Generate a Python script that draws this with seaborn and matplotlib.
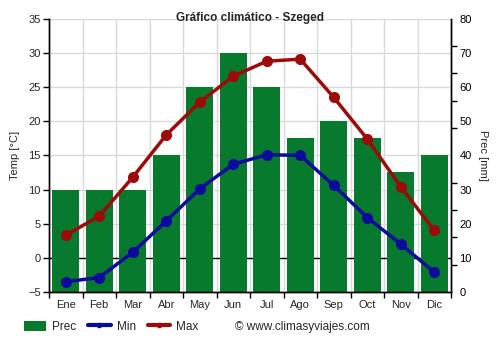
import numpy as np
import pandas as pd
import matplotlib
matplotlib.use("Agg")
import matplotlib.pyplot as plt
import matplotlib.transforms as mtransforms
from matplotlib.lines import Line2D
from matplotlib.patches import Patch
import seaborn as sns

# Monthly climate data for Szeged
months = ["Ene", "Feb", "Mar", "Abr", "May", "Jun", "Jul", "Ago", "Sep", "Oct", "Nov", "Dic"]
prec_mm = [30, 30, 30, 40, 60, 70, 60, 45, 50, 45, 35, 40]
temp_min = [-3.5, -2.9, 0.8, 5.4, 10.1, 13.7, 15.1, 15.0, 10.6, 5.9, 2.0, -2.1]
temp_max = [3.3, 6.1, 11.8, 18.0, 22.8, 26.6, 28.8, 29.1, 23.5, 17.4, 10.4, 4.0]
temp_ticks = [-5, 0, 5, 10, 15, 20, 25, 30, 35]
prec_ticks = [0, 10, 20, 30, 40, 50, 60, 70, 80]

C_BAR = "#077a2e"
C_MIN = "#0a0a9c"
C_MAX = "#9c0a0a"
C_GRID = "#d9d9d9"

sns.set_theme(style="white")
plt.rcParams["font.family"] = ["Liberation Sans", "DejaVu Sans"]

df = pd.DataFrame({"mes": months, "prec": prec_mm, "tmin": temp_min, "tmax": temp_max})

fig = plt.figure(figsize=(5, 3.5), dpi=100)
ax_t = fig.add_axes([0.098, 0.166, 0.804, 0.780])
ax_p = ax_t.twinx()
ax_t.set_zorder(2)
ax_t.patch.set_visible(False)
ax_p.set_zorder(1)
ax_p.patch.set_facecolor("white")

# Precipitation bars (right axis)
sns.barplot(data=df, x="mes", y="prec", ax=ax_p, color=C_BAR, width=0.8,
            saturation=1, zorder=2, linewidth=0)
ax_p.set_ylim(0, 80)
ax_p.set_yticks(prec_ticks)
ax_p.set_yticks(np.arange(0, 81, 8), minor=True)
ax_p.tick_params(axis="y", which="major", length=0, pad=6, labelsize=8, colors="black")
ax_p.tick_params(axis="y", which="minor", length=4, width=1, color="black", right=True)
ax_p.yaxis.set_ticks_position("right")
ax_p.set_ylabel("Prec [mm]", fontsize=8, rotation=-90, labelpad=12)
ax_p.yaxis.set_label_position("right")
ax_p.grid(axis="y", which="major", color=C_GRID, linewidth=1)
ax_p.set_axisbelow(True)

# Temperature lines (left axis)
sns.lineplot(data=df, x="mes", y="tmin", ax=ax_t, color=C_MIN, linewidth=2.5,
             marker="o", markersize=8, markeredgewidth=0, sort=False)
sns.lineplot(data=df, x="mes", y="tmax", ax=ax_t, color=C_MAX, linewidth=2.5,
             marker="o", markersize=8, markeredgewidth=0, sort=False)
ax_t.set_ylim(-5, 35)
ax_t.set_yticks(temp_ticks)
ax_t.yaxis.set_ticks_position("left")
ax_t.yaxis.set_label_position("left")
ax_t.tick_params(axis="y", length=4, width=1, color="black", labelsize=8, pad=2, left=True)
ax_t.set_ylabel("Temp [°C]", fontsize=8, labelpad=6)
ax_t.set_xlabel("")
ax_p.set_xlabel("")

# Category labels centred, ticks at the boundaries
ax_t.set_xlim(-0.5, 11.5)
ax_t.set_xticks(range(len(months)))
ax_t.set_xticklabels(months)
boundaries = np.arange(-0.5, 12, 1)
ax_t.set_xticks(boundaries, minor=True)
ax_t.tick_params(axis="x", which="major", length=0, labelsize=8, pad=6)
ax_t.tick_params(axis="x", which="minor", length=4, width=1, color="black", bottom=True)

# Vertical grid at month boundaries, behind the bars
for b in boundaries[1:-1]:
    ax_p.axvline(b, color=C_GRID, linewidth=1, zorder=0.5)

# Zero-degree reference line behind the bars
trans = mtransforms.blended_transform_factory(ax_p.transAxes, ax_t.transData)
ax_p.add_line(Line2D([0, 1], [0, 0], transform=trans, color="black", linewidth=1, zorder=1))

for a in (ax_t, ax_p):
    for side in ("left", "right", "bottom"):
        a.spines[side].set_visible(True)
        a.spines[side].set_color("black")
        a.spines[side].set_linewidth(1)
    a.spines["top"].set_visible(False)

fig.text(0.5, 1 - 18 / 350, "Gráfico climático - Szeged", fontsize=8.5,
         fontweight="bold", ha="center", va="center", zorder=5)

handles = [
    Patch(facecolor=C_BAR, edgecolor="none"),
    Line2D([0], [0], color=C_MIN, linewidth=3, marker="o", markersize=3),
    Line2D([0], [0], color=C_MAX, linewidth=3, marker="o", markersize=3),
]
fig.legend(handles, ["Prec", "Min", "Max"], loc="center left",
           bbox_to_anchor=(0.048, 0.066), ncol=3, frameon=False, fontsize=8.5,
           handlelength=1.9, handleheight=0.9, columnspacing=1.0, handletextpad=0.5,
           borderpad=0, borderaxespad=0)
fig.text(0.47, 0.066, "© www.climasyviajes.com", fontsize=8.5, va="center", ha="left")

fig.savefig("out.png", dpi=100)
